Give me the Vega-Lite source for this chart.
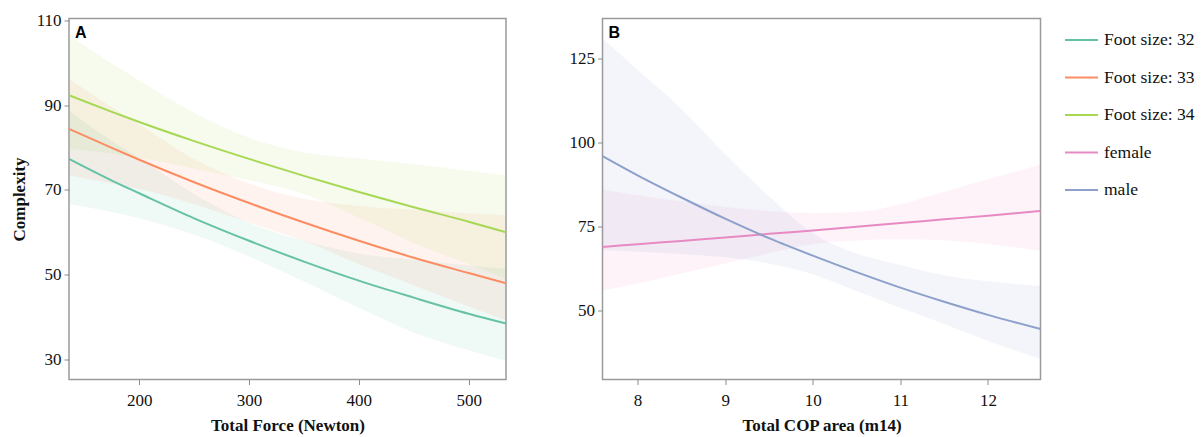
{
  "$schema": "https://vega.github.io/schema/vega-lite/v6.json",
  "background": "white",
  "padding": {"left": 9, "top": 9.5, "right": 5, "bottom": 5},
  "config": {
    "view": {"stroke": "#9a9a9a", "strokeWidth": 1.5},
    "axis": {
      "domain": false, "grid": false,
      "tickColor": "#8a8a8a", "tickSize": 5, "tickWidth": 1,
      "labelFont": "Liberation Serif", "labelFontSize": 17, "labelColor": "#111111", "labelPadding": 3,
      "titleFont": "Liberation Serif", "titleFontSize": 17, "titleFontWeight": "bold", "titleColor": "#111111", "titlePadding": 8
    },
    "axisX": {"labelPadding": 8, "titlePadding": 9},
    "legend": {
      "orient": "right", "offset": 13.5, "padding": 4,
      "symbolType": "stroke", "symbolSize": 1089, "symbolStrokeWidth": 2, "symbolOpacity": 1,
      "labelFont": "Liberation Serif", "labelFontSize": 17.5, "labelColor": "#111111", "labelOffset": 5,
      "rowPadding": 11.5
    },
    "line": {"strokeWidth": 2, "interpolate": "monotone"},
    "area": {"interpolate": "monotone"}
  },
  "datasets": {
    "A": [
      {"group": "Foot size: 32", "x": 136, "y": 77.3, "lo": 66.7, "hi": 88.7},
      {"group": "Foot size: 32", "x": 175, "y": 72.2, "lo": 64.8, "hi": 81.5},
      {"group": "Foot size: 32", "x": 200, "y": 69.2, "lo": 63.3, "hi": 77.5},
      {"group": "Foot size: 32", "x": 250, "y": 63.3, "lo": 59.4, "hi": 69.0},
      {"group": "Foot size: 32", "x": 300, "y": 58.0, "lo": 54.3, "hi": 62.2},
      {"group": "Foot size: 32", "x": 350, "y": 53.1, "lo": 48.4, "hi": 58.0},
      {"group": "Foot size: 32", "x": 400, "y": 48.6, "lo": 42.2, "hi": 55.0},
      {"group": "Foot size: 32", "x": 450, "y": 44.6, "lo": 36.4, "hi": 53.5},
      {"group": "Foot size: 32", "x": 500, "y": 40.8, "lo": 32.2, "hi": 52.2},
      {"group": "Foot size: 32", "x": 534, "y": 38.5, "lo": 29.7, "hi": 51.4},
      {"group": "Foot size: 33", "x": 136, "y": 84.4, "lo": 73.4, "hi": 96.2},
      {"group": "Foot size: 33", "x": 175, "y": 79.9, "lo": 71.5, "hi": 89.5},
      {"group": "Foot size: 33", "x": 200, "y": 77.1, "lo": 70.2, "hi": 85.5},
      {"group": "Foot size: 33", "x": 250, "y": 71.8, "lo": 66.6, "hi": 77.3},
      {"group": "Foot size: 33", "x": 300, "y": 66.9, "lo": 62.3, "hi": 71.5},
      {"group": "Foot size: 33", "x": 350, "y": 62.3, "lo": 58.0, "hi": 67.9},
      {"group": "Foot size: 33", "x": 400, "y": 58.0, "lo": 52.5, "hi": 66.2},
      {"group": "Foot size: 33", "x": 450, "y": 54.0, "lo": 47.5, "hi": 65.3},
      {"group": "Foot size: 33", "x": 500, "y": 50.4, "lo": 42.5, "hi": 64.5},
      {"group": "Foot size: 33", "x": 534, "y": 48.0, "lo": 39.2, "hi": 64.0},
      {"group": "Foot size: 34", "x": 136, "y": 92.3, "lo": 79.7, "hi": 106.5},
      {"group": "Foot size: 34", "x": 175, "y": 88.4, "lo": 78.5, "hi": 99.8},
      {"group": "Foot size: 34", "x": 200, "y": 86.0, "lo": 77.5, "hi": 95.8},
      {"group": "Foot size: 34", "x": 250, "y": 81.5, "lo": 75.0, "hi": 88.2},
      {"group": "Foot size: 34", "x": 300, "y": 77.3, "lo": 72.3, "hi": 82.3},
      {"group": "Foot size: 34", "x": 350, "y": 73.3, "lo": 69.0, "hi": 78.8},
      {"group": "Foot size: 34", "x": 400, "y": 69.5, "lo": 63.5, "hi": 77.4},
      {"group": "Foot size: 34", "x": 450, "y": 65.9, "lo": 57.5, "hi": 76.1},
      {"group": "Foot size: 34", "x": 500, "y": 62.5, "lo": 52.5, "hi": 74.5},
      {"group": "Foot size: 34", "x": 534, "y": 60.0, "lo": 49.0, "hi": 73.4}
    ],
    "B": [
      {"group": "female", "x": 7.6, "y": 68.9, "lo": 55.9, "hi": 86.0},
      {"group": "female", "x": 8.0, "y": 69.7, "lo": 58.0, "hi": 84.3},
      {"group": "female", "x": 8.5, "y": 70.7, "lo": 61.0, "hi": 82.5},
      {"group": "female", "x": 9.0, "y": 71.7, "lo": 64.0, "hi": 80.8},
      {"group": "female", "x": 9.5, "y": 72.8, "lo": 67.0, "hi": 79.6},
      {"group": "female", "x": 10.0, "y": 73.8, "lo": 69.7, "hi": 79.0},
      {"group": "female", "x": 10.5, "y": 74.9, "lo": 70.8, "hi": 79.3},
      {"group": "female", "x": 11.0, "y": 76.0, "lo": 71.2, "hi": 81.6},
      {"group": "female", "x": 11.5, "y": 77.1, "lo": 70.9, "hi": 85.3},
      {"group": "female", "x": 12.0, "y": 78.2, "lo": 69.8, "hi": 89.0},
      {"group": "female", "x": 12.6, "y": 79.6, "lo": 67.7, "hi": 93.4},
      {"group": "male", "x": 7.6, "y": 95.9, "lo": 68.0, "hi": 130.9},
      {"group": "male", "x": 8.0, "y": 90.2, "lo": 67.5, "hi": 121.5},
      {"group": "male", "x": 8.5, "y": 83.6, "lo": 66.8, "hi": 110.0},
      {"group": "male", "x": 9.0, "y": 77.3, "lo": 65.8, "hi": 96.5},
      {"group": "male", "x": 9.5, "y": 71.5, "lo": 64.0, "hi": 84.0},
      {"group": "male", "x": 10.0, "y": 66.3, "lo": 60.8, "hi": 73.0},
      {"group": "male", "x": 10.5, "y": 61.4, "lo": 55.8, "hi": 67.0},
      {"group": "male", "x": 11.0, "y": 56.8, "lo": 50.8, "hi": 63.5},
      {"group": "male", "x": 11.5, "y": 52.6, "lo": 46.0, "hi": 60.5},
      {"group": "male", "x": 12.0, "y": 48.7, "lo": 41.0, "hi": 58.7},
      {"group": "male", "x": 12.6, "y": 44.5, "lo": 35.6, "hi": 57.3}
    ],
    "labA": [{"t": "A", "x": 136, "y": 110.4}],
    "labB": [{"t": "B", "x": 7.6, "y": 136.8}]
  },
  "spacing": 56.5,
  "hconcat": [
    {
      "width": 437, "height": 361,
      "layer": [
        {
          "data": {"name": "A"},
          "mark": {"type": "area", "opacity": 0.1},
          "encoding": {
            "x": {"field": "x", "type": "quantitative", "scale": {"domain": [136, 534], "nice": false, "zero": false},
                  "axis": {"values": [200, 300, 400, 500], "title": "Total Force (Newton)"}},
            "y": {"field": "lo", "type": "quantitative", "scale": {"domain": [25.3, 110.4], "nice": false, "zero": false},
                  "axis": {"values": [30, 50, 70, 90, 110], "title": "Complexity"}},
            "y2": {"field": "hi"},
            "color": {"field": "group", "type": "nominal", "title": null,
                     "scale": {"domain": ["Foot size: 32", "Foot size: 33", "Foot size: 34", "female", "male"],
                               "range": ["#66c2a5", "#fc8d62", "#a6d854", "#e78ac3", "#8da0cb"]},
                     "legend": {"encode": {"symbols": {"update": {"stroke": {"scale": "color", "field": "value"}, "strokeWidth": {"value": 2}, "opacity": {"value": 1}, "fillOpacity": {"value": 0}, "strokeOpacity": {"value": 1}}}}}}
          }
        },
        {
          "data": {"name": "A"},
          "mark": {"type": "line"},
          "encoding": {
            "x": {"field": "x", "type": "quantitative"},
            "y": {"field": "y", "type": "quantitative"},
            "color": {"field": "group", "type": "nominal"}
          }
        },
        {
          "data": {"name": "labA"},
          "mark": {"type": "text", "align": "left", "baseline": "top", "dx": 6, "dy": 6,
                   "font": "Liberation Sans", "fontSize": 16, "fontWeight": "bold", "color": "#000000"},
          "encoding": {
            "x": {"field": "x", "type": "quantitative"},
            "y": {"field": "y", "type": "quantitative"},
            "text": {"field": "t"}
          }
        }
      ]
    },
    {
      "width": 438, "height": 361,
      "layer": [
        {
          "data": {"name": "B"},
          "mark": {"type": "area", "opacity": 0.1},
          "encoding": {
            "x": {"field": "x", "type": "quantitative", "scale": {"domain": [7.6, 12.6], "nice": false, "zero": false},
                  "axis": {"values": [8, 9, 10, 11, 12], "format": "d", "title": "Total COP area (m14)"}},
            "y": {"field": "lo", "type": "quantitative", "scale": {"domain": [29.5, 136.8], "nice": false, "zero": false},
                  "axis": {"values": [50, 75, 100, 125], "title": null}},
            "y2": {"field": "hi"},
            "color": {"field": "group", "type": "nominal"}
          }
        },
        {
          "data": {"name": "B"},
          "mark": {"type": "line"},
          "encoding": {
            "x": {"field": "x", "type": "quantitative"},
            "y": {"field": "y", "type": "quantitative"},
            "color": {"field": "group", "type": "nominal"}
          }
        },
        {
          "data": {"name": "labB"},
          "mark": {"type": "text", "align": "left", "baseline": "top", "dx": 6, "dy": 6,
                   "font": "Liberation Sans", "fontSize": 16, "fontWeight": "bold", "color": "#000000"},
          "encoding": {
            "x": {"field": "x", "type": "quantitative"},
            "y": {"field": "y", "type": "quantitative"},
            "text": {"field": "t"}
          }
        }
      ]
    }
  ],
  "resolve": {"scale": {"color": "shared"}}
}
